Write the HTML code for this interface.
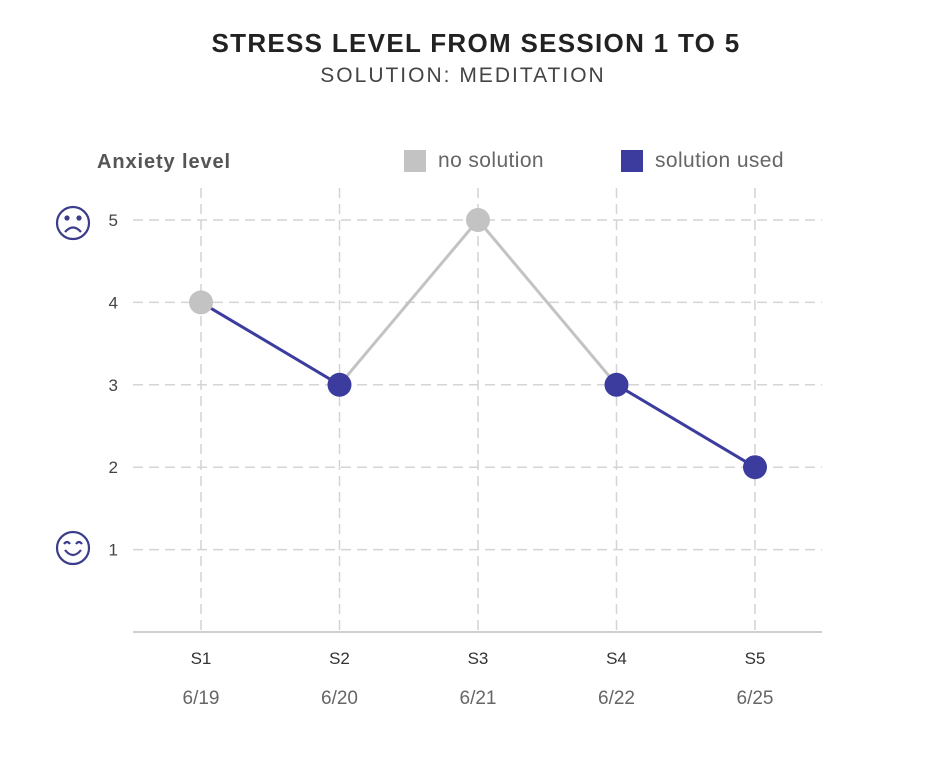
<!DOCTYPE html>
<html><head><meta charset="utf-8"><style>
body{margin:0;background:#fff;width:934px;height:758px;overflow:hidden;font-family:"Liberation Sans",sans-serif}
</style></head><body>
<svg id="chart" width="934" height="758" xmlns="http://www.w3.org/2000/svg">
<text x="476" y="52" text-anchor="middle" font-size="26" font-weight="bold" fill="#222" letter-spacing="1.3">STRESS LEVEL FROM SESSION 1 TO 5</text>
<text x="463" y="82" text-anchor="middle" font-size="21" fill="#444" letter-spacing="2">SOLUTION: MEDITATION</text>
<text x="97" y="168" font-size="20" font-weight="bold" fill="#555" letter-spacing="0.9">Anxiety level</text>
<g><rect x="404" y="150" width="22" height="22" fill="#c3c3c3"/><text x="438" y="167" font-size="21" fill="#666" letter-spacing="0.4">no solution</text></g>
<g><rect x="621" y="150" width="22" height="22" fill="#3b3c9e"/><text x="655" y="167" font-size="21" fill="#666" letter-spacing="0.4">solution used</text></g>
<g id="grid"></g><g id="lines"></g><g id="points"></g><g id="labels"></g>
<g fill="none" stroke="#3b3c8a" stroke-width="2.2"><circle cx="73" cy="223" r="16"/><circle cx="67" cy="218" r="1.5" fill="#3b3c8a"/><circle cx="79" cy="218" r="1.5" fill="#3b3c8a"/><path d="M65 232 Q73 223 81 232"/></g>
<g fill="none" stroke="#3b3c8a" stroke-width="2.2"><circle cx="73" cy="548" r="16"/><path d="M64 544 Q67 540 70 544 M76 544 Q79 540 82 544"/><path d="M65 550 Q73 560 81 550"/></g>
</svg>
<script>
const categories=["S1","S2","S3","S4","S5"];
const dates=["6/19","6/20","6/21","6/22","6/25"];
const values=[4,3,5,3,2];
const solutionUsed=[false,true,false,true,true];
const segmentSolution=[true,false,false,true];
const yTicks=[1,2,3,4,5];
const NS="http://www.w3.org/2000/svg";
const x=i=>201+i*138.5;
const y=v=>632-v*82.4;
const BLUE="#3b3c9e",GRAY="#c3c3c3";
function mk(tag,attrs,parent){const e=document.createElementNS(NS,tag);for(const k in attrs)e.setAttribute(k,attrs[k]);document.getElementById(parent).appendChild(e);return e;}
yTicks.forEach(t=>{
 let l=mk("line",{x1:133,x2:822,y1:y(t),y2:y(t),stroke:"#d4d4d4","stroke-width":1.5,"stroke-dasharray":"10 6"},"grid");
 
 
 let tx=mk("text",{x:118,y:y(t)+6,"text-anchor":"end","font-size":17,fill:"#444"},"labels");tx.textContent=t;
 
 
});
categories.forEach((c,i)=>{
 let l=mk("line",{x1:x(i),x2:x(i),y1:188,y2:632,stroke:"#d4d4d4","stroke-width":1.5,"stroke-dasharray":"10 6"},"grid");
 
 
 let t=mk("text",{x:x(i),y:664,"text-anchor":"middle","font-size":17,fill:"#333"},"labels");t.textContent=c;
 
 
 let d=mk("text",{x:x(i),y:704,"text-anchor":"middle","font-size":19,fill:"#666"},"labels");d.textContent=dates[i];
 
 
});
let ax=mk("line",{x1:133,x2:822,y1:632,y2:632,stroke:"#cfcfcf","stroke-width":2},"grid");


for(let i=0;i<values.length-1;i++){
 let l=mk("line",{x1:x(i),y1:y(values[i]),x2:x(i+1),y2:y(values[i+1]),stroke:segmentSolution[i]?BLUE:GRAY,"stroke-width":3},"lines");
 
 
}
values.forEach((v,i)=>{
 let c=mk("circle",{cx:x(i),cy:y(v),r:12,fill:solutionUsed[i]?BLUE:GRAY},"points");
 
 
});
</script>
</body></html>
